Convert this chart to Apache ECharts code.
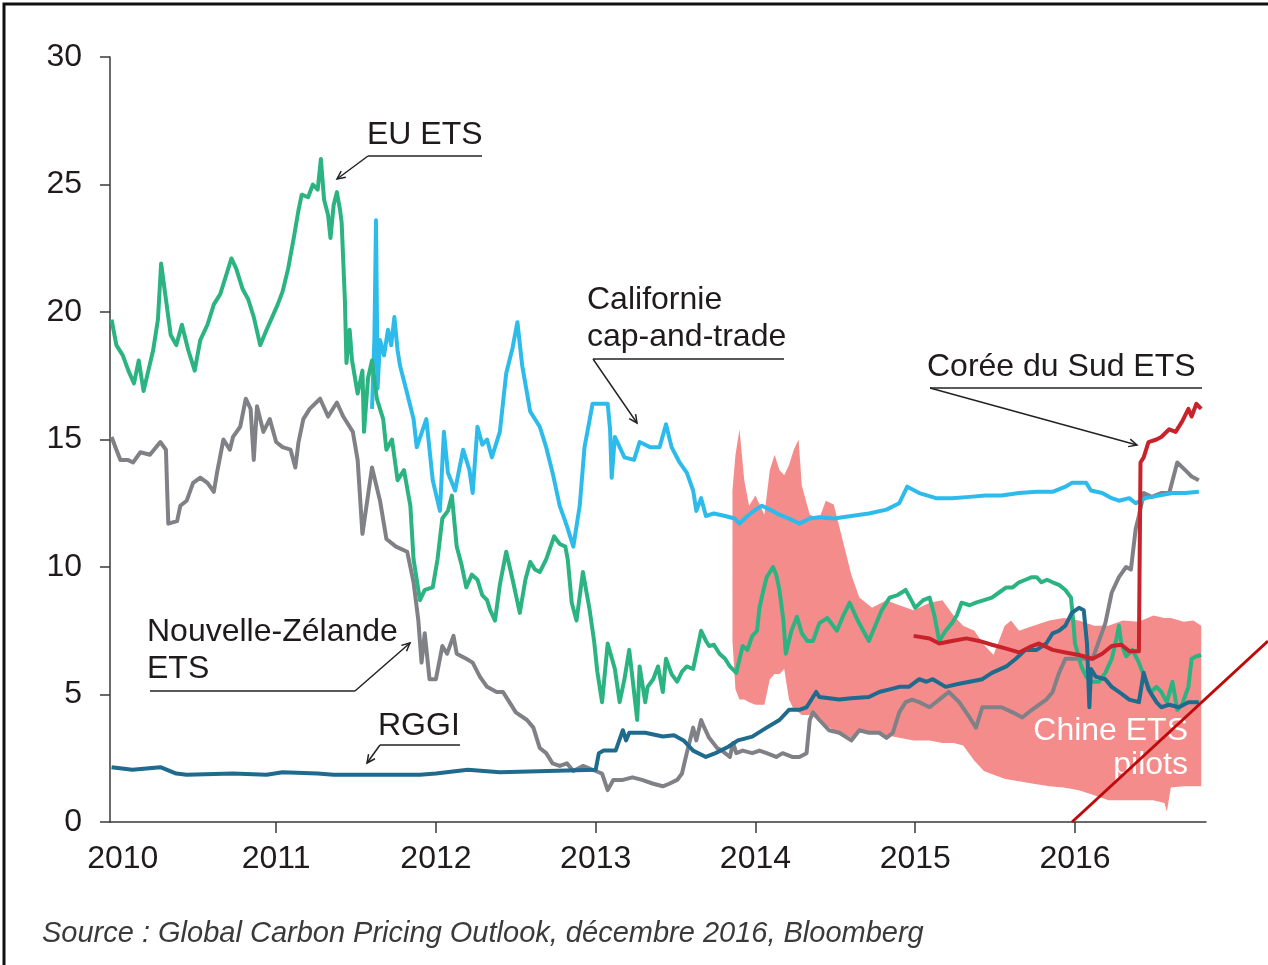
<!DOCTYPE html>
<html>
<head>
<meta charset="utf-8">
<script src="https://cdn.jsdelivr.net/npm/echarts@6/dist/echarts.min.js"></script>
<style>
  html, body { margin: 0; padding: 0; background: #fff; }
  #chart { width: 1268px; height: 965px; }
</style>
</head>
<body>
<div id="chart"></div>
<script>
// tick labels
const years = [2010, 2011, 2012, 2013, 2014, 2015, 2016]

// prix en fin de journee, [annee decimale, valeur]
const euEts = [[2009.97,19.7],[2010.0,18.7],[2010.04,18.3],[2010.075,17.7],[2010.11,17.2],[2010.14,18.1],[2010.17,16.9],[2010.2,17.7],[2010.23,18.5],[2010.26,19.7],[2010.28,21.9],[2010.31,20.5],[2010.34,19.1],[2010.375,18.7],[2010.41,19.5],[2010.45,18.5],[2010.49,17.7],[2010.525,18.9],[2010.57,19.5],[2010.61,20.3],[2010.65,20.7],[2010.69,21.5],[2010.72,22.1],[2010.75,21.7],[2010.79,20.9],[2010.825,20.5],[2010.86,19.8],[2010.9,18.7],[2010.94,19.3],[2010.975,19.8],[2011.01,20.3],[2011.04,20.8],[2011.075,21.7],[2011.11,22.9],[2011.14,24.0],[2011.16,24.6],[2011.2,24.5],[2011.23,25.0],[2011.26,24.8],[2011.28,26.0],[2011.3,24.4],[2011.325,23.8],[2011.34,22.9],[2011.36,24.2],[2011.38,24.7],[2011.4,24.0],[2011.41,23.5],[2011.43,20.5],[2011.44,18.0],[2011.46,19.3],[2011.475,18.1],[2011.51,16.8],[2011.54,17.7],[2011.55,15.3],[2011.575,17.4],[2011.6,18.1],[2011.63,16.6],[2011.67,15.8],[2011.69,14.6],[2011.725,15.0],[2011.76,13.4],[2011.8,13.8],[2011.84,12.4],[2011.86,10.3],[2011.9,8.7],[2011.93,9.1],[2011.98,9.2],[2012.01,10.3],[2012.04,11.9],[2012.075,12.2],[2012.1,12.8],[2012.13,10.8],[2012.16,10.1],[2012.19,9.2],[2012.225,9.7],[2012.26,9.5],[2012.29,8.9],[2012.32,8.7],[2012.34,8.3],[2012.37,7.9],[2012.4,9.3],[2012.44,10.6],[2012.48,9.5],[2012.525,8.2],[2012.56,9.5],[2012.59,10.2],[2012.62,9.9],[2012.65,9.8],[2012.69,10.3],[2012.74,11.2],[2012.775,10.9],[2012.81,10.8],[2012.825,10.3],[2012.85,8.6],[2012.88,7.9],[2012.92,9.8],[2012.96,8.4],[2012.99,7.1],[2013.01,5.9],[2013.04,4.7],[2013.075,7.0],[2013.12,6.0],[2013.15,4.7],[2013.18,5.6],[2013.21,6.75],[2013.26,4.0],[2013.275,6.1],[2013.31,4.7],[2013.325,5.3],[2013.36,5.6],[2013.39,6.1],[2013.42,5.1],[2013.44,6.4],[2013.475,5.8],[2013.51,5.5],[2013.54,5.9],[2013.57,6.1],[2013.61,6.0],[2013.66,7.5],[2013.69,7.1],[2013.71,6.9],[2013.74,6.95],[2013.775,6.6],[2013.81,6.4],[2013.84,6.1],[2013.88,5.85],[2013.92,6.9],[2013.95,6.75],[2013.98,7.3],[2014.01,7.5],[2014.025,8.4],[2014.05,9.1],[2014.07,9.6],[2014.11,10.0],[2014.13,9.7],[2014.15,9.1],[2014.175,7.9],[2014.19,6.6],[2014.225,7.5],[2014.26,8.05],[2014.29,7.4],[2014.325,7.1],[2014.36,7.1],[2014.4,7.8],[2014.45,8.0],[2014.51,7.5],[2014.55,8.1],[2014.59,8.6],[2014.64,7.9],[2014.675,7.5],[2014.71,7.1],[2014.75,7.7],[2014.79,8.3],[2014.84,8.8],[2014.89,8.9],[2014.94,9.1],[2014.975,8.7],[2015.0,8.4],[2015.05,8.7],[2015.09,8.8],[2015.12,8.1],[2015.15,7.1],[2015.19,7.5],[2015.23,7.8],[2015.26,8.1],[2015.29,8.6],[2015.34,8.5],[2015.38,8.6],[2015.43,8.7],[2015.48,8.8],[2015.525,9.0],[2015.57,9.2],[2015.61,9.2],[2015.65,9.4],[2015.69,9.5],[2015.73,9.6],[2015.76,9.6],[2015.79,9.4],[2015.825,9.5],[2015.86,9.4],[2015.9,9.3],[2015.94,9.1],[2015.975,8.8],[2015.99,7.8],[2016.0,7.0],[2016.04,6.1],[2016.07,5.7],[2016.1,5.5],[2016.15,5.5],[2016.19,5.85],[2016.23,6.4],[2016.26,7.2],[2016.275,7.7],[2016.29,7.0],[2016.32,6.5],[2016.36,6.75],[2016.4,6.25],[2016.44,5.6],[2016.475,5.1],[2016.51,5.3],[2016.54,5.1],[2016.575,4.7],[2016.61,5.5],[2016.64,4.4],[2016.67,4.6],[2016.71,5.3],[2016.73,6.4],[2016.76,6.5],[2016.79,6.55]]

const california = [[2011.6,16.2],[2011.615,19.0],[2011.625,23.6],[2011.635,17.0],[2011.65,18.9],[2011.675,18.3],[2011.7,19.3],[2011.72,18.7],[2011.74,19.8],[2011.76,18.5],[2011.775,17.9],[2011.82,16.8],[2011.86,15.8],[2011.88,14.7],[2011.94,15.8],[2011.98,13.4],[2012.025,12.2],[2012.05,15.3],[2012.075,13.7],[2012.12,13.0],[2012.17,14.6],[2012.21,13.8],[2012.23,12.9],[2012.26,15.5],[2012.29,14.8],[2012.32,15.0],[2012.35,14.3],[2012.4,15.3],[2012.44,17.6],[2012.48,18.6],[2012.51,19.6],[2012.54,17.9],[2012.59,16.1],[2012.65,15.5],[2012.69,14.7],[2012.73,13.7],[2012.775,12.4],[2012.82,11.6],[2012.86,10.8],[2012.9,12.4],[2012.93,14.7],[2012.96,15.7],[2012.98,16.4],[2013.025,16.4],[2013.075,16.4],[2013.09,15.4],[2013.1,13.5],[2013.12,15.1],[2013.18,14.3],[2013.24,14.2],[2013.275,14.9],[2013.34,14.7],[2013.4,14.7],[2013.44,15.6],[2013.475,14.7],[2013.525,14.1],[2013.57,13.7],[2013.61,13.0],[2013.63,12.2],[2013.66,12.7],[2013.69,12.0],[2013.74,12.1],[2013.81,12.0],[2013.87,11.9],[2013.9,11.7],[2013.95,12.0],[2013.99,12.2],[2014.04,12.4],[2014.09,12.25],[2014.15,12.05],[2014.21,11.9],[2014.275,11.7],[2014.34,11.9],[2014.4,11.95],[2014.49,11.9],[2014.6,12.0],[2014.71,12.1],[2014.82,12.25],[2014.9,12.5],[2014.95,13.15],[2015.025,12.9],[2015.13,12.7],[2015.23,12.7],[2015.34,12.75],[2015.44,12.8],[2015.54,12.8],[2015.65,12.9],[2015.76,12.95],[2015.86,12.95],[2015.94,13.15],[2015.98,13.3],[2016.07,13.3],[2016.1,13.0],[2016.17,12.9],[2016.23,12.7],[2016.275,12.6],[2016.34,12.7],[2016.38,12.5],[2016.44,12.7],[2016.525,12.8],[2016.61,12.9],[2016.69,12.9],[2016.775,12.95]]

const nzEts = [[2009.97,15.1],[2010.0,14.6],[2010.025,14.2],[2010.07,14.2],[2010.105,14.1],[2010.15,14.5],[2010.21,14.4],[2010.275,14.9],[2010.31,14.6],[2010.32,12.6],[2010.325,11.7],[2010.38,11.8],[2010.4,12.4],[2010.44,12.6],[2010.48,13.3],[2010.525,13.5],[2010.57,13.3],[2010.61,12.95],[2010.63,13.7],[2010.67,15.0],[2010.71,14.6],[2010.73,15.1],[2010.775,15.5],[2010.81,16.6],[2010.84,16.2],[2010.86,14.2],[2010.88,16.3],[2010.92,15.3],[2010.96,15.8],[2011.0,14.9],[2011.04,14.7],[2011.09,14.6],[2011.12,13.9],[2011.14,14.9],[2011.17,15.8],[2011.21,16.2],[2011.275,16.6],[2011.325,15.9],[2011.38,16.45],[2011.42,15.9],[2011.48,15.3],[2011.51,14.2],[2011.54,11.3],[2011.57,12.6],[2011.6,13.9],[2011.65,12.6],[2011.69,11.1],[2011.75,10.8],[2011.82,10.6],[2011.86,9.4],[2011.89,7.9],[2011.91,6.25],[2011.93,7.4],[2011.96,5.6],[2012.0,5.6],[2012.04,6.9],[2012.07,6.6],[2012.11,7.3],[2012.13,6.6],[2012.19,6.4],[2012.23,6.25],[2012.275,5.7],[2012.32,5.3],[2012.38,5.1],[2012.42,5.1],[2012.46,4.7],[2012.5,4.3],[2012.57,4.0],[2012.61,3.7],[2012.65,2.9],[2012.69,2.7],[2012.73,2.3],[2012.775,2.2],[2012.82,2.3],[2012.86,2.0],[2012.92,2.2],[2013.0,2.0],[2013.04,1.9],[2013.075,1.25],[2013.11,1.65],[2013.17,1.65],[2013.23,1.75],[2013.29,1.65],[2013.36,1.5],[2013.42,1.4],[2013.46,1.5],[2013.51,1.65],[2013.54,1.9],[2013.57,2.7],[2013.59,3.2],[2013.61,3.7],[2013.63,3.2],[2013.66,4.0],[2013.68,3.7],[2013.71,3.3],[2013.76,2.9],[2013.79,2.8],[2013.84,2.55],[2013.86,3.1],[2013.88,2.7],[2013.92,2.8],[2013.98,2.7],[2014.025,2.8],[2014.07,2.7],[2014.13,2.55],[2014.17,2.7],[2014.23,2.55],[2014.275,2.55],[2014.32,2.7],[2014.34,4.0],[2014.36,4.3],[2014.4,4.0],[2014.46,3.6],[2014.525,3.5],[2014.6,3.2],[2014.65,3.6],[2014.71,3.5],[2014.775,3.5],[2014.82,3.3],[2014.86,3.5],[2014.9,4.3],[2014.94,4.7],[2014.98,4.8],[2015.025,4.7],[2015.09,4.5],[2015.15,4.8],[2015.21,5.1],[2015.275,4.7],[2015.34,4.1],[2015.38,3.7],[2015.42,4.5],[2015.48,4.5],[2015.54,4.5],[2015.61,4.3],[2015.67,4.1],[2015.73,4.4],[2015.82,4.8],[2015.86,5.1],[2015.9,5.85],[2015.94,6.4],[2016.025,6.4],[2016.11,6.4],[2016.15,7.1],[2016.19,7.8],[2016.23,9.0],[2016.275,9.6],[2016.32,10.0],[2016.35,9.9],[2016.38,11.5],[2016.4,12.0],[2016.43,12.9],[2016.48,12.75],[2016.54,12.9],[2016.59,12.9],[2016.64,14.1],[2016.69,13.8],[2016.73,13.55],[2016.775,13.4]]

const rggi = [[2009.97,2.15],[2010.1,2.05],[2010.275,2.15],[2010.375,1.9],[2010.44,1.85],[2010.73,1.9],[2010.94,1.85],[2011.04,1.95],[2011.26,1.9],[2011.36,1.85],[2011.9,1.85],[2012.0,1.9],[2012.2,2.05],[2012.4,1.95],[2013.0,2.05],[2013.02,2.7],[2013.05,2.8],[2013.125,2.8],[2013.17,3.6],[2013.19,3.2],[2013.21,3.5],[2013.31,3.5],[2013.42,3.35],[2013.49,3.4],[2013.55,3.2],[2013.61,2.8],[2013.69,2.55],[2013.75,2.7],[2013.83,2.95],[2013.89,3.2],[2013.98,3.35],[2014.07,3.7],[2014.15,4.0],[2014.21,4.4],[2014.275,4.4],[2014.32,4.5],[2014.38,5.1],[2014.4,4.9],[2014.525,4.8],[2014.6,4.85],[2014.71,4.9],[2014.775,5.1],[2014.84,5.2],[2014.9,5.3],[2014.96,5.3],[2015.025,5.6],[2015.07,5.5],[2015.11,5.6],[2015.19,5.3],[2015.26,5.4],[2015.34,5.5],[2015.42,5.6],[2015.48,5.85],[2015.57,6.1],[2015.63,6.4],[2015.69,6.75],[2015.76,6.75],[2015.82,7.0],[2015.86,7.4],[2015.9,7.5],[2015.94,7.7],[2015.98,8.2],[2016.025,8.4],[2016.055,8.3],[2016.075,7.0],[2016.09,4.5],[2016.1,6.0],[2016.13,5.7],[2016.19,5.6],[2016.23,5.3],[2016.275,5.1],[2016.34,4.8],[2016.4,4.7],[2016.43,5.85],[2016.46,5.2],[2016.51,4.7],[2016.54,4.5],[2016.59,4.6],[2016.65,4.5],[2016.71,4.7],[2016.775,4.7]]

const koreaEts = [[2014.99,7.3],[2015.09,7.2],[2015.15,7.0],[2015.23,7.1],[2015.32,7.2],[2015.4,7.1],[2015.48,6.95],[2015.57,6.8],[2015.65,6.65],[2015.73,6.9],[2015.775,7.0],[2015.86,6.75],[2015.94,6.65],[2016.025,6.55],[2016.11,6.4],[2016.17,6.6],[2016.23,6.9],[2016.29,6.95],[2016.34,6.7],[2016.4,6.7],[2016.41,14.1],[2016.43,14.3],[2016.46,14.9],[2016.51,15.0],[2016.54,15.1],[2016.59,15.4],[2016.63,15.3],[2016.67,15.7],[2016.71,16.2],[2016.73,15.9],[2016.76,16.4],[2016.79,16.2]]

// fourchette des pilotes chinois (max / min)
const chinaHigh = [[2013.856,13.0],[2013.875,14.4],[2013.9,15.4],[2013.93,13.4],[2013.96,12.4],[2014.0,12.8],[2014.056,12.05],[2014.09,13.8],[2014.12,14.4],[2014.15,13.8],[2014.18,13.6],[2014.21,14.0],[2014.24,14.6],[2014.27,15.0],[2014.29,13.2],[2014.34,12.05],[2014.4,11.9],[2014.44,12.6],[2014.49,12.45],[2014.54,11.2],[2014.6,9.7],[2014.65,8.8],[2014.73,8.4],[2014.82,8.7],[2014.9,8.5],[2014.99,8.3],[2015.09,8.6],[2015.17,8.7],[2015.24,8.1],[2015.3,7.7],[2015.37,7.5],[2015.43,6.95],[2015.49,6.55],[2015.56,7.7],[2015.6,7.9],[2015.65,7.5],[2015.74,7.7],[2015.84,7.9],[2015.93,8.0],[2016.025,7.9],[2016.12,7.7],[2016.21,7.7],[2016.3,7.9],[2016.4,7.85],[2016.49,8.1],[2016.56,8.0],[2016.575,8.0],[2016.6,8.0],[2016.68,7.85],[2016.74,7.9],[2016.79,7.7]]
const chinaLow = [[2013.856,7.1],[2013.875,5.2],[2013.9,4.8],[2013.93,4.8],[2013.96,4.7],[2014.0,4.6],[2014.056,4.6],[2014.09,5.6],[2014.12,5.8],[2014.15,5.8],[2014.18,6.0],[2014.21,4.8],[2014.24,4.4],[2014.27,4.3],[2014.29,4.2],[2014.34,4.2],[2014.4,4.0],[2014.44,3.8],[2014.49,3.6],[2014.54,3.5],[2014.6,3.3],[2014.65,3.5],[2014.73,3.5],[2014.82,3.4],[2014.9,3.3],[2014.99,3.2],[2015.09,3.2],[2015.17,3.1],[2015.24,3.1],[2015.3,3.0],[2015.37,2.4],[2015.43,2.0],[2015.49,1.85],[2015.56,1.7],[2015.6,1.65],[2015.65,1.6],[2015.74,1.5],[2015.84,1.4],[2015.93,1.35],[2016.025,1.25],[2016.12,1.05],[2016.21,0.85],[2016.3,0.85],[2016.4,0.85],[2016.49,0.85],[2016.56,0.75],[2016.575,0.4],[2016.6,1.35],[2016.68,1.4],[2016.74,1.4],[2016.79,1.4]]

const FONT = "'Liberation Sans', Arial, sans-serif"
const INK = '#1f1b1c'

// annotations: texte, soulignement, fleche
const notes = [
  {lines: ['EU ETS'], x: 367, y: 135, under: [368, 482, 156], from: [368, 156], tip: [337, 179]},
  {lines: ['Californie', 'cap-and-trade'], x: 587, y: 300, under: [593, 784, 359], from: [593, 359], tip: [637, 423]},
  {lines: ['Corée du Sud ETS'], x: 927, y: 367, under: [930, 1202, 388], from: [930, 388], tip: [1137, 445]},
  {lines: ['Nouvelle-Zélande', 'ETS'], x: 147, y: 632, under: [150, 355, 691], from: [355, 691], tip: [410, 643]},
  {lines: ['RGGI'], x: 378, y: 726, under: [380, 460, 745], from: [380, 745], tip: [367, 763]}
]

function arrowHead(from, tip) {
  const a = Math.atan2(tip[1] - from[1], tip[0] - from[0])
  const len = 9, w = 0.45
  return [
    [tip[0] - len * Math.cos(a - w), tip[1] - len * Math.sin(a - w)],
    tip,
    [tip[0] - len * Math.cos(a + w), tip[1] - len * Math.sin(a + w)]
  ]
}

let graphics = []
notes.forEach(n => {
  n.lines.forEach((t, i) => {
    graphics.push({
      type: 'text', z: 50,
      style: {x: n.x, y: n.y + i * 37, text: t, font: '32px ' + FONT, fill: INK, verticalAlign: 'middle'}
    })
  })
  graphics.push({
    type: 'line', z: 50,
    shape: {x1: n.under[0], y1: n.under[2], x2: n.under[1], y2: n.under[2]},
    style: {stroke: '#5a5a5a', lineWidth: 2}
  })
  graphics.push({
    type: 'line', z: 50,
    shape: {x1: n.from[0], y1: n.from[1], x2: n.tip[0], y2: n.tip[1]},
    style: {stroke: '#222', lineWidth: 1.5}
  })
  graphics.push({
    type: 'polyline', z: 50,
    shape: {points: arrowHead(n.from, n.tip)},
    style: {stroke: '#222', lineWidth: 1.5, fill: null}
  })
})
// etiquette blanche sur la zone chinoise
graphics.push({type: 'text', z: 50, style: {x: 1188, y: 731, text: 'Chine ETS', font: '32px ' + FONT, fill: '#fff', align: 'right', verticalAlign: 'middle'}})
graphics.push({type: 'text', z: 50, style: {x: 1188, y: 765, text: 'pilots', font: '32px ' + FONT, fill: '#fff', align: 'right', verticalAlign: 'middle'}})
// source
graphics.push({type: 'text', z: 50, style: {x: 42, y: 934, text: 'Source : Global Carbon Pricing Outlook, décembre 2016, Bloomberg', font: 'italic 29px ' + FONT, fill: '#3a3a3a', verticalAlign: 'middle'}})
// cadre
graphics.push({type: 'rect', z: 60, shape: {x: 4, y: 4, width: 1400, height: 1100}, style: {stroke: '#111', lineWidth: 3, fill: null}})
// trait rouge en diagonale
graphics.push({type: 'line', z: 60, shape: {x1: 1072, y1: 822, x2: 1268, y2: 641}, style: {stroke: '#be0a0a', lineWidth: 3}})

function lineSeries(name, data, color, width) {
  return {
    name: name,
    type: 'line',
    data: data,
    showSymbol: false,
    symbol: 'none',
    lineStyle: {color: color, width: width, join: 'round'},
    animation: false
  }
}

const chart = echarts.init(document.getElementById('chart'), null, {renderer: 'canvas'})
chart.setOption({
  animation: false,
  grid: {left: 110, right: 62, top: 57, bottom: 143},
  xAxis: {
    type: 'value',
    min: 2009.96,
    max: 2016.82,
    axisLine: {lineStyle: {color: '#3a3a3a', width: 1.5}},
    axisTick: {
      show: true,
      length: 11,
      customValues: years.slice(1),
      lineStyle: {color: '#3a3a3a', width: 1.5}
    },
    axisLabel: {
      customValues: years.map(y => y === 2010 ? 2010.04 : y),
      formatter: v => String(Math.round(v)),
      fontSize: 32,
      fontFamily: FONT,
      color: INK,
      margin: 21
    },
    splitLine: {show: false}
  },
  yAxis: {
    type: 'value',
    min: 0,
    max: 30,
    interval: 5,
    axisLine: {show: true, lineStyle: {color: '#3a3a3a', width: 1.5}},
    axisTick: {show: true, length: 10, lineStyle: {color: '#3a3a3a', width: 1.5}},
    axisLabel: {fontSize: 32, fontFamily: FONT, color: INK, margin: 28, padding: [5, 0, 0, 0]},
    splitLine: {show: false}
  },
  series: [
    {
      name: 'Chine ETS pilots',
      type: 'custom',
      data: [[2015, 5]],
      encode: {x: 0, y: 1},
      animation: false,
      renderItem: function (params, api) {
        const pts = chinaHigh.map(p => api.coord(p))
          .concat(chinaLow.slice().reverse().map(p => api.coord(p)))
        return {type: 'polygon', shape: {points: pts}, style: {fill: '#f48c8c'}}
      }
    },
    lineSeries('Nouvelle-Zélande ETS', nzEts, '#808186', 4),
    lineSeries('Californie cap-and-trade', california, '#2cbbea', 4),
    lineSeries('EU ETS', euEts, '#2bb482', 4),
    lineSeries('RGGI', rggi, '#1e6b8e', 4),
    lineSeries('Corée du Sud ETS', koreaEts, '#c8232b', 4)
  ],
  graphic: graphics
})
</script>
</body>
</html>
